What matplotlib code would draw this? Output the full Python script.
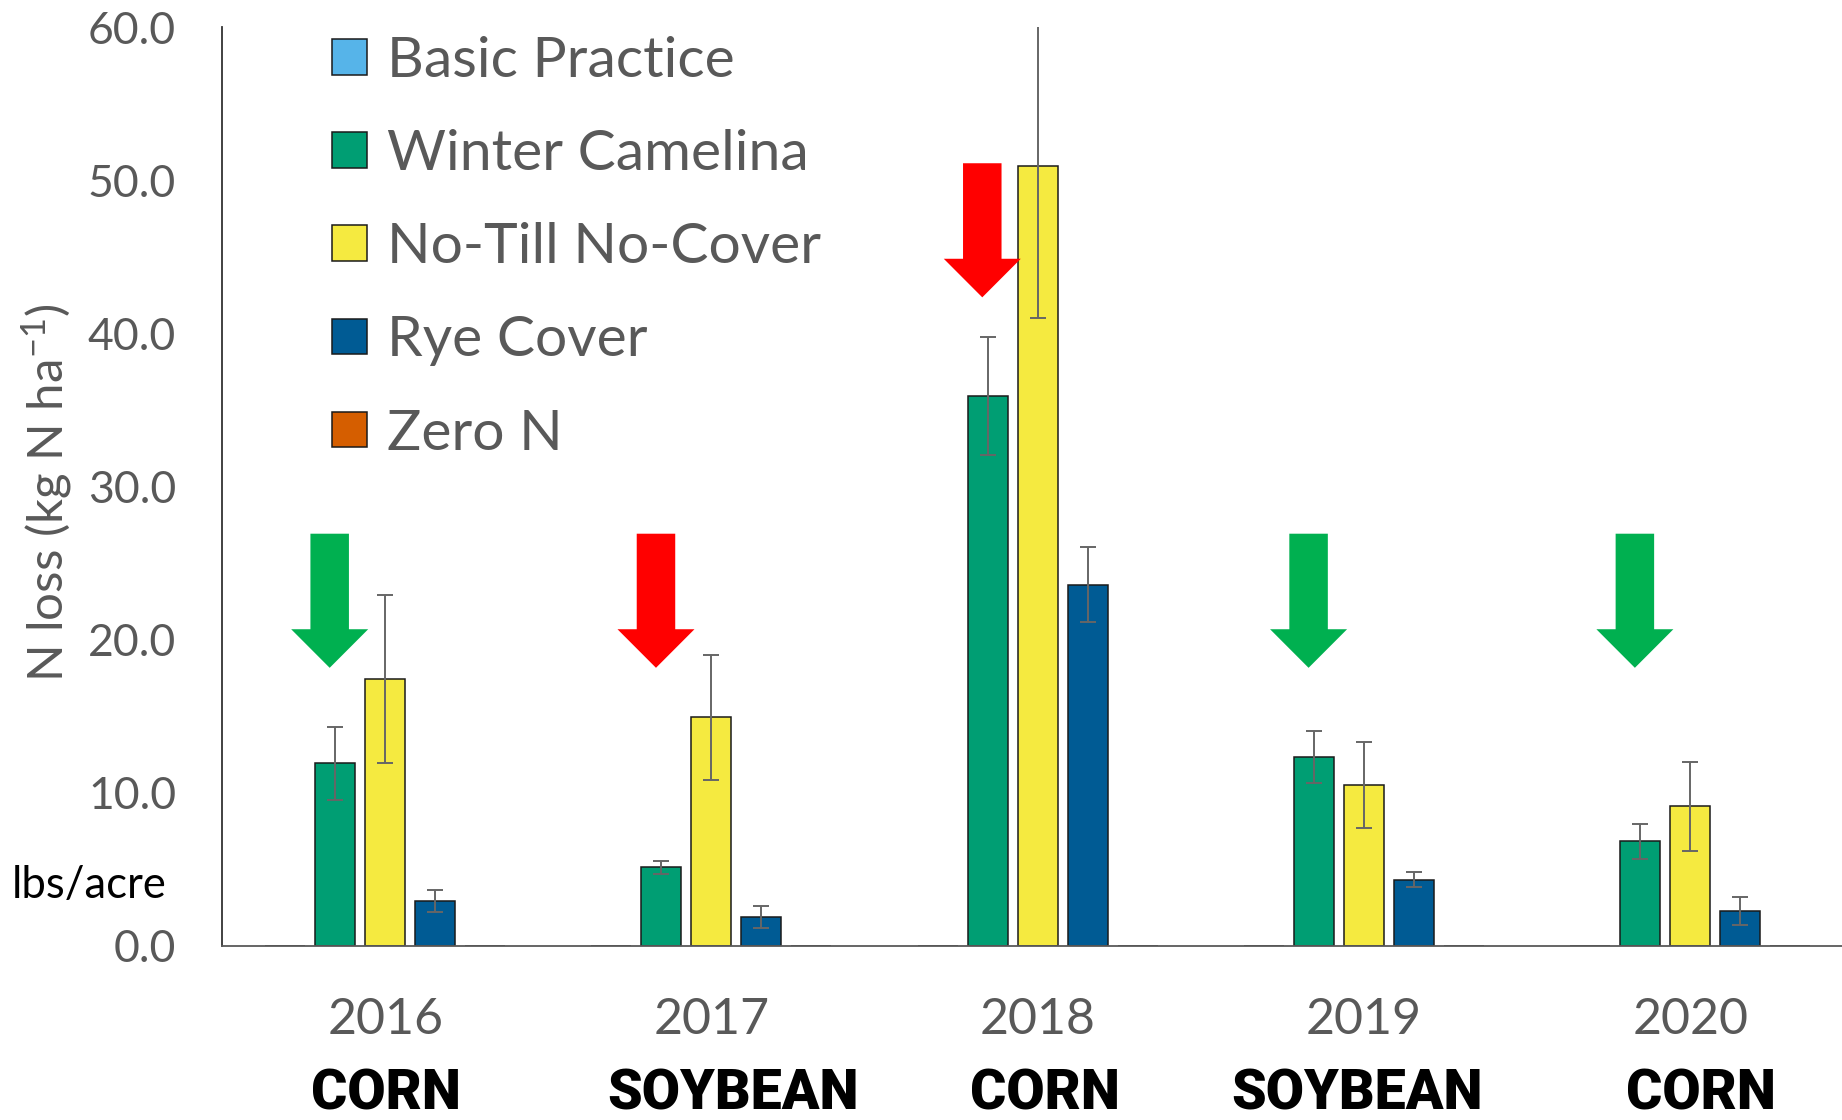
import matplotlib
matplotlib.use("Agg")
import matplotlib.pyplot as plt
import numpy as np
from matplotlib.patches import Polygon

plt.rcParams['font.family'] = ['Lato', 'DejaVu Sans']
plt.rcParams['mathtext.default'] = 'regular'

# ---- data ----
years = ['2016', '2017', '2018', '2019', '2020']
crops = ['CORN', 'SOYBEAN', 'CORN', 'SOYBEAN', 'CORN']
series_names = ['Basic Practice', 'Winter Camelina', 'No-Till No-Cover', 'Rye Cover', 'Zero N']
basic = [0.0, 0.0, 0.0, 0.0, 0.0]
basic_err = [0.0, 0.0, 0.0, 0.0, 0.0]
camelina = [11.9, 5.1, 35.9, 12.3, 6.8]
camelina_err = [2.4, 0.45, 3.85, 1.7, 1.15]
notill = [17.4, 14.9, 50.9, 10.5, 9.1]
notill_err = [5.5, 4.1, 9.9, 2.8, 2.9]
rye = [2.9, 1.85, 23.55, 4.3, 2.25]
rye_err = [0.7, 0.7, 2.45, 0.5, 0.93]
zero_n = [0.0, 0.0, 0.0, 0.0, 0.0]
zero_n_err = [0.0, 0.0, 0.0, 0.0, 0.0]
yticks = [0, 10, 20, 30, 40, 50, 60]

# direction arrows above each year: green = improvement, red = worse
arrow_colors = ['#00B050', '#FF0000', '#FF0000', '#00B050', '#00B050']
arrow_tops = [26.9, 26.9, 51.1, 26.9, 26.9]

colors = ['#56B4E9', '#009E73', '#F5EA40', '#005B94', '#D55E00']
values = [basic, camelina, notill, rye, zero_n]
errors = [basic_err, camelina_err, notill_err, rye_err, zero_n_err]

W, H = 1842, 1120
fig = plt.figure(figsize=(W / 100, H / 100), dpi=100)
ax = fig.add_axes([222 / W, 1 - 945.5 / H, 1631.5 / W, (945.5 - 27) / H])

x = np.arange(len(years))
step = 0.1532
width = 0.1226
gray = '#595959'

handles = []
for k, (vals, errs, col) in enumerate(zip(values, errors, colors)):
    pos = x + (k - 2) * step
    b = ax.bar(pos, vals, width, color=col, edgecolor='#1a1a1a', linewidth=1.1,
               label=series_names[k], zorder=2)
    handles.append(b)
    if any(e > 0 for e in errs):
        ax.errorbar(pos, vals, yerr=errs, fmt='none', ecolor='#666666',
                    elinewidth=1.4, capsize=5.5, capthick=1.4, zorder=3)

# arrows
shaft_hw = 0.059
head_hw = 0.118
arrow_len = 8.76
head_len = 2.52
for i, (c, top) in enumerate(zip(arrow_colors, arrow_tops)):
    cx = i - 0.17
    tip = top - arrow_len
    hb = tip + head_len
    pts = [(cx - shaft_hw, top), (cx + shaft_hw, top), (cx + shaft_hw, hb),
           (cx + head_hw, hb), (cx, tip), (cx - head_hw, hb), (cx - shaft_hw, hb)]
    ax.add_patch(Polygon(pts, closed=True, facecolor=c, edgecolor='none', zorder=4))

ax.set_xlim(-0.5, 4.5)
ax.set_ylim(0, 60)
ax.set_yticks(yticks)
ax.set_yticklabels([f'{v:.1f}' for v in yticks], fontsize=32, color=gray)
ax.set_xticks(x)
ax.set_xticklabels(years, fontsize=36, color=gray)
ax.tick_params(axis='y', length=0, pad=33)
ax.tick_params(axis='x', length=0, pad=37)
for s in ['top', 'right']:
    ax.spines[s].set_visible(False)
ax.spines['left'].set_color('#333333')
ax.spines['left'].set_linewidth(1.3)
ax.spines['bottom'].set_color(gray)
ax.spines['bottom'].set_linewidth(1.3)

# crop labels under the years
crop_offsets = [0.003, 0.065, 0.022, -0.022, 0.031]
for i, (crop, off) in enumerate(zip(crops, crop_offsets)):
    xpix = ax.transData.transform((i + off, 0))[0]
    fig.text(xpix / W, 1 - 1110 / H, crop, fontsize=40, fontweight='black',
             family=['Roboto', 'DejaVu Sans'], ha='center', va='baseline',
             color='black')

fig.text(47 / W, 1 - 493 / H, 'N loss (kg N ha$^{-1}$)', rotation=90,
         ha='center', va='center', fontsize=35.5, color=gray)
fig.text(12 / W, 1 - 886 / H, 'lbs/acre', ha='left', va='center',
         fontsize=31.4, color='black')

leg = ax.legend(handles=handles, loc='upper left',
                bbox_to_anchor=(332 / W, 1 - 36 / H), bbox_transform=fig.transFigure,
                frameon=False, fontsize=41, labelcolor=gray,
                handlelength=0.61, handleheight=0.58, handletextpad=0.36,
                labelspacing=0.74, borderaxespad=0, borderpad=0)

fig.savefig('out.png', dpi=100)
